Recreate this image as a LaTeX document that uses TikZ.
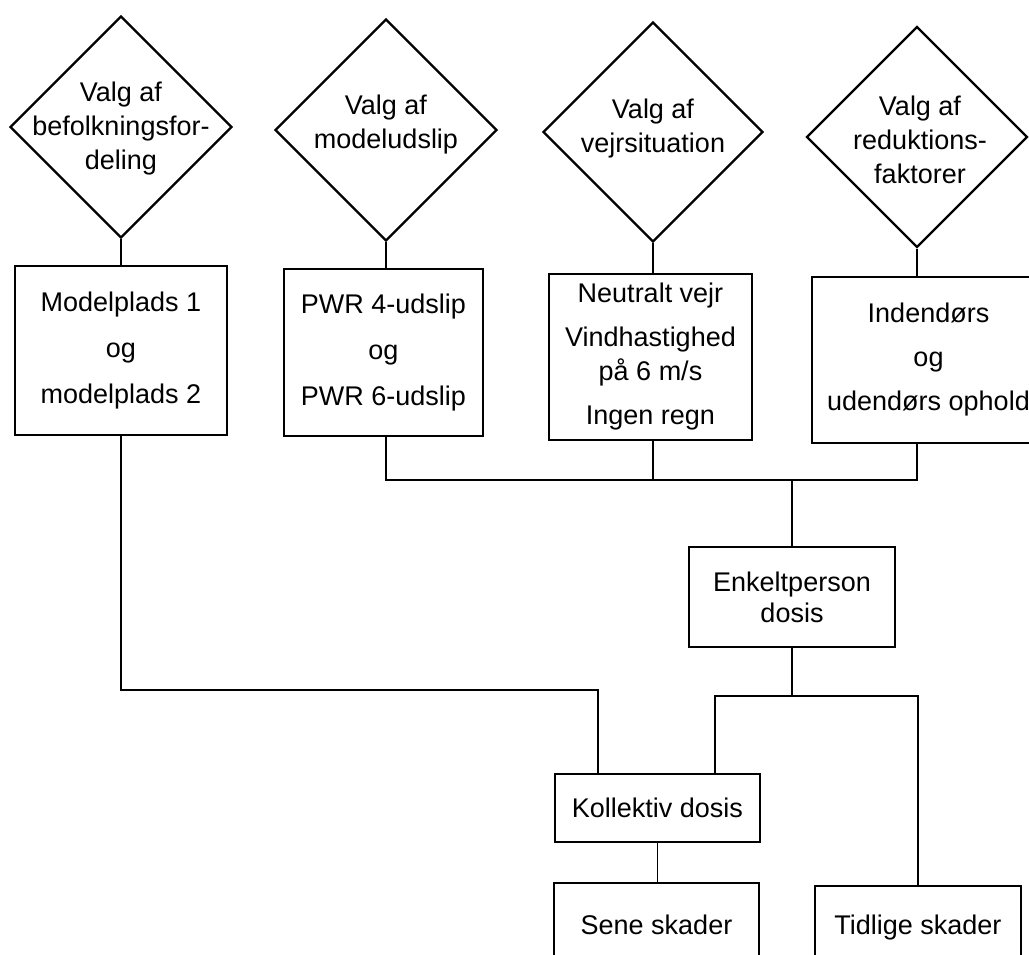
\documentclass[tikz,border=0pt]{standalone}
\usepackage{fontspec}
\setmainfont{Liberation Sans}
\usetikzlibrary{shapes.geometric}
\begin{document}
\begin{tikzpicture}[x=1pt,y=-1pt,font=\fontsize{27}{34}\selectfont,
  box/.style={draw,line width=2.8pt,rectangle,inner sep=0pt,align=center},
  dia/.style={draw,line width=2.3pt,diamond,inner sep=0pt,minimum width=222pt,minimum height=222pt},
  dtext/.style={align=center,inner sep=0pt},
  conn/.style={line width=1.7pt}]
\useasboundingbox (0,0) rectangle (1029,954);
\clip (0,0) rectangle (1029,954);
% diamonds
\node[dia] (d1) at (121,127) {};
\node[dia] (d2) at (386,130) {};
\node[dia,minimum width=220pt,minimum height=220pt] (d3) at (653,132) {};
\node[dia,minimum width=221pt,minimum height=221pt] (d4) at (917,137) {};
\node[dtext] (d1t) at (121,129) {Valg af\\befolkningsfor-\\deling};
\node[dtext] (d2t) at (386,125) {Valg af\\modeludslip};
\node[dtext] (d3t) at (653,129) {Valg af\\vejrsituation};
\node[dtext] (d4t) at (920,140) {Valg af\\reduktions-\\faktorer};
% boxes
\node[box,minimum width=212pt,minimum height=169pt] (b1) at (121,350.5) {Modelplads 1\\[12pt]og\\[12pt]modelplads 2};
\node[box,minimum width=199pt,minimum height=167pt] (b2) at (383.5,352.5) {PWR 4-udslip\\[12pt]og\\[12pt]PWR 6-udslip};
\node[box,minimum width=203pt,minimum height=166pt] (b3) at (650.5,357) {Neutralt vejr\\[10pt]Vindhastighed\\på 6 m/s\\[10pt]Ingen regn};
\node[box,minimum width=233pt,minimum height=166pt] (b4) at (928.5,360) {Indendørs\\[10pt]og\\[10pt]udendørs ophold};
\node[box,minimum width=206pt,minimum height=100pt] (e) at (792,597) {Enkeltperson\\[-3pt]dosis};
\node[box,minimum width=205pt,minimum height=68pt] (k) at (657.5,808) {Kollektiv dosis};
\node[box,minimum width=205pt,minimum height=84pt] (s) at (656.5,925) {Sene skader};
\node[box,minimum width=206pt,minimum height=84pt] (t) at (918,928) {Tidlige skader};
% junction coordinates
\coordinate (j1) at (792,480);
\coordinate (j2) at (792,696);
\coordinate (h1) at (598,690);
\coordinate (kb) at (598,774);
\coordinate (ka) at (715,774);
% connectors
\draw[conn] (d1.south) -- (b1.north);
\draw[conn] (d2.south) -- (d2.south |- b2.north);
\draw[conn] (d3.south) -- (d3.south |- b3.north);
\draw[conn] (d4.south) -- (d4.south |- b4.north);
\draw[conn] (d2.south |- b2.south) |- (j1) -| (d4.south |- b4.south);
\draw[conn] (d3.south |- b3.south) -- (d3.south |- j1);
\draw[conn] (j1) -- (e.north);
\draw[conn] (e.south) -- (j2);
\draw[conn] (ka) |- (j2) -| (t.north);
\draw[conn] (b1.south) |- (h1) -- (kb);
\draw[conn] (k.south) -- (k.south |- s.north);
\end{tikzpicture}
\end{document}
